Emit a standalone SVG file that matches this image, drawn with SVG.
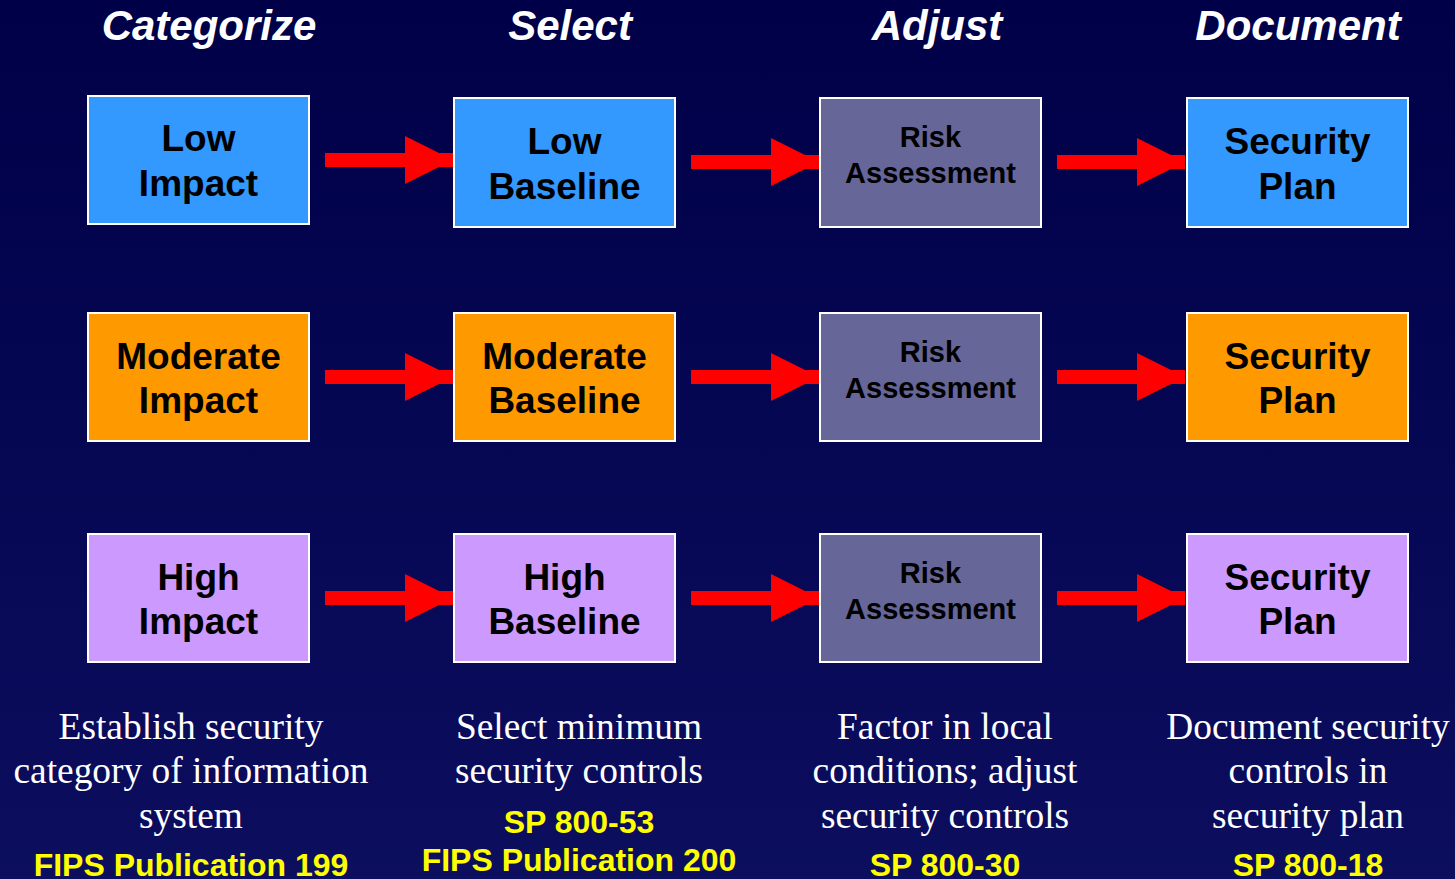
<svg xmlns="http://www.w3.org/2000/svg" width="1455" height="879" viewBox="0 0 1455 879">
<defs>
<linearGradient id="bg" x1="0" y1="0" x2="0" y2="1">
<stop offset="0" stop-color="#000048"/>
<stop offset="1" stop-color="#0c0e5e"/>
</linearGradient>
<marker id="ah" viewBox="0 0 48 48" refX="48" refY="24" markerWidth="48" markerHeight="48" markerUnits="userSpaceOnUse" orient="auto">
<path d="M0,0 L48,24 L0,48 Z" fill="#ff0000"/>
</marker>
</defs>
<style>
.head{font-family:"Liberation Sans",Arial,sans-serif;font-weight:bold;font-style:italic;font-size:42px;fill:#ffffff;text-anchor:middle}
.box{stroke:#ffffff;stroke-width:2}
.low{fill:#3399ff}
.mod{fill:#ff9900}
.high{fill:#cc99ff}
.risk{fill:#666699}
.bt{font-family:"Liberation Sans",Arial,sans-serif;font-weight:bold;font-size:37px;fill:#000000;text-anchor:middle}
.rt{font-family:"Liberation Sans",Arial,sans-serif;font-weight:bold;font-size:29px;fill:#000000;text-anchor:middle}
.desc{font-family:"Liberation Serif","Times New Roman",serif;font-size:37.4px;fill:#ffffff;text-anchor:middle}
.ref{font-family:"Liberation Sans",Arial,sans-serif;font-weight:bold;font-size:32px;fill:#ffff00;text-anchor:middle}
.arr{stroke:#ff0000;stroke-width:14;fill:none;marker-end:url(#ah)}
</style>
<rect width="1455" height="879" fill="url(#bg)"/>

<g id="headings">
<text class="head" x="209" y="40">Categorize</text>
<text class="head" x="570" y="40">Select</text>
<text class="head" x="937" y="40">Adjust</text>
<text class="head" x="1298" y="40">Document</text>
</g>

<g id="connectors">
<path class="arr" d="M325,160 H453"/>
<path class="arr" d="M691,162 H819"/>
<path class="arr" d="M1057,162 H1185"/>
<path class="arr" d="M325,377 H453"/>
<path class="arr" d="M691,377 H819"/>
<path class="arr" d="M1057,377 H1185"/>
<path class="arr" d="M325,598 H453"/>
<path class="arr" d="M691,598 H819"/>
<path class="arr" d="M1057,598 H1185"/>
</g>

<g id="low-impact"><rect class="box low" x="88" y="96" width="221" height="128"/>
<text class="bt" x="198.5" y="151">Low</text><text class="bt" x="198.5" y="196">Impact</text></g>
<g id="low-baseline"><rect class="box low" x="454" y="98" width="221" height="129"/>
<text class="bt" x="564.5" y="154">Low</text><text class="bt" x="564.5" y="199">Baseline</text></g>
<g id="risk-1"><rect class="box risk" x="820" y="98" width="221" height="129"/>
<text class="rt" x="930.5" y="147">Risk</text><text class="rt" x="930.5" y="183">Assessment</text></g>
<g id="plan-1"><rect class="box low" x="1187" y="98" width="221" height="129"/>
<text class="bt" x="1297.5" y="154">Security</text><text class="bt" x="1297.5" y="199">Plan</text></g>

<g id="moderate-impact"><rect class="box mod" x="88" y="313" width="221" height="128"/>
<text class="bt" x="198.5" y="369">Moderate</text><text class="bt" x="198.5" y="413">Impact</text></g>
<g id="moderate-baseline"><rect class="box mod" x="454" y="313" width="221" height="128"/>
<text class="bt" x="564.5" y="369">Moderate</text><text class="bt" x="564.5" y="413">Baseline</text></g>
<g id="risk-2"><rect class="box risk" x="820" y="313" width="221" height="128"/>
<text class="rt" x="930.5" y="362">Risk</text><text class="rt" x="930.5" y="398">Assessment</text></g>
<g id="plan-2"><rect class="box mod" x="1187" y="313" width="221" height="128"/>
<text class="bt" x="1297.5" y="369">Security</text><text class="bt" x="1297.5" y="413">Plan</text></g>

<g id="high-impact"><rect class="box high" x="88" y="534" width="221" height="128"/>
<text class="bt" x="198.5" y="590">High</text><text class="bt" x="198.5" y="634">Impact</text></g>
<g id="high-baseline"><rect class="box high" x="454" y="534" width="221" height="128"/>
<text class="bt" x="564.5" y="590">High</text><text class="bt" x="564.5" y="634">Baseline</text></g>
<g id="risk-3"><rect class="box risk" x="820" y="534" width="221" height="128"/>
<text class="rt" x="930.5" y="583">Risk</text><text class="rt" x="930.5" y="619">Assessment</text></g>
<g id="plan-3"><rect class="box high" x="1187" y="534" width="221" height="128"/>
<text class="bt" x="1297.5" y="590">Security</text><text class="bt" x="1297.5" y="634">Plan</text></g>

<g id="desc-categorize">
<text class="desc" x="191" y="739">Establish security</text>
<text class="desc" x="191" y="783">category of information</text>
<text class="desc" x="191" y="828">system</text>
<text class="ref" x="191" y="876">FIPS Publication 199</text>
</g>
<g id="desc-select">
<text class="desc" x="579" y="739">Select minimum</text>
<text class="desc" x="579" y="783">security controls</text>
<text class="ref" x="579" y="833">SP 800-53</text>
<text class="ref" x="579" y="871">FIPS Publication 200</text>
</g>
<g id="desc-adjust">
<text class="desc" x="945" y="739">Factor in local</text>
<text class="desc" x="945" y="783">conditions; adjust</text>
<text class="desc" x="945" y="828">security controls</text>
<text class="ref" x="945" y="876">SP 800-30</text>
</g>
<g id="desc-document">
<text class="desc" x="1308" y="739">Document security</text>
<text class="desc" x="1308" y="783">controls in</text>
<text class="desc" x="1308" y="828">security plan</text>
<text class="ref" x="1308" y="876">SP 800-18</text>
</g>
</svg>
